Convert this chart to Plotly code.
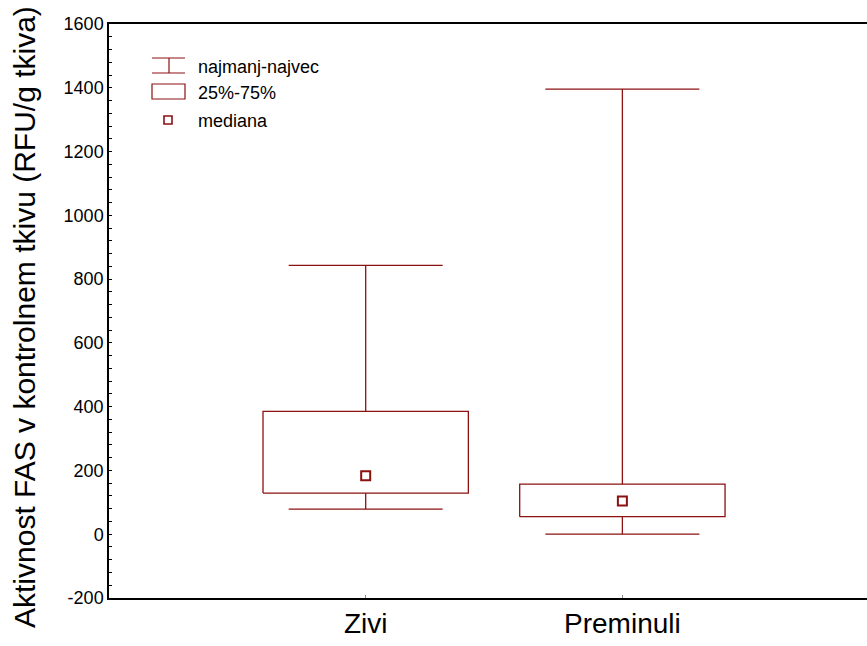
import plotly.graph_objects as go

# Summary statistics per group (RFU/g tkiva)
groups = ["Zivi", "Preminuli"]
minimum = [79, 0]
q1 = [129, 55]
median = [183, 104]
q3 = [385, 157]
maximum = [843, 1396]

y_ticks = [-200, 0, 200, 400, 600, 800, 1000, 1200, 1400, 1600]

RED = "#8c1111"
FONT = "Arial, Liberation Sans"
W, H = 867, 646
ML, MR, MT, MB = 109, 0, 24, 48
BOX_HALF = 0.4
CAP_HALF = 0.3

pos = list(range(1, len(groups) + 1))

fig = go.Figure()

# whiskers with caps
wx, wy = [], []
for p, lo, a, b, hi in zip(pos, minimum, q1, q3, maximum):
    wx += [p, p, None, p, p, None,
           p - CAP_HALF, p + CAP_HALF, None, p - CAP_HALF, p + CAP_HALF, None]
    wy += [b, hi, None, lo, a, None, hi, hi, None, lo, lo, None]
fig.add_trace(go.Scatter(x=wx, y=wy, mode="lines", line=dict(color=RED, width=1.3),
                         hoverinfo="skip", showlegend=False))

# interquartile boxes
bx, by = [], []
for p, a, b in zip(pos, q1, q3):
    bx += [p - BOX_HALF, p + BOX_HALF, p + BOX_HALF, p - BOX_HALF, p - BOX_HALF, None]
    by += [a, a, b, b, a, None]
fig.add_trace(go.Scatter(x=bx, y=by, mode="lines", line=dict(color=RED, width=1.3),
                         hoverinfo="skip", showlegend=False))

# medians
fig.add_trace(go.Scatter(x=pos, y=median, mode="markers",
                         marker=dict(symbol="square-open", size=9, color=RED,
                                     line=dict(color=RED, width=2)),
                         showlegend=False))

pw, ph = W - ML - MR, H - MT - MB


def px(x):
    return (x - ML) / pw


def py(y):
    return (H - MB - y) / ph


shapes = []
line = dict(color=RED, width=1.2)
# legend: min-max icon
shapes += [
    dict(type="line", xref="paper", yref="paper", x0=px(152), x1=px(185), y0=py(58), y1=py(58), line=line),
    dict(type="line", xref="paper", yref="paper", x0=px(152), x1=px(185), y0=py(73), y1=py(73), line=line),
    dict(type="line", xref="paper", yref="paper", x0=px(169), x1=px(169), y0=py(58), y1=py(73), line=line),
    # legend: box icon
    dict(type="rect", xref="paper", yref="paper", x0=px(152), x1=px(185), y0=py(84), y1=py(99), line=line),
    # legend: median icon
    dict(type="rect", xref="paper", yref="paper", x0=px(164), x1=px(172), y0=py(116), y1=py(124),
         line=dict(color=RED, width=1.6)),
]

annotations = []
for txt, yy in [("najmanj-najvec", 67), ("25%-75%", 93), ("mediana", 121)]:
    annotations.append(dict(text=txt, xref="paper", yref="paper", x=px(196), y=py(yy),
                            xanchor="left", yanchor="middle", showarrow=False,
                            font=dict(family=FONT, size=18, color="black")))

# y-axis title
annotations.append(dict(text="Aktivnost FAS v kontrolnem tkivu (RFU/g tkiva)",
                        xref="paper", yref="paper", x=px(24), y=py(317),
                        xanchor="center", yanchor="middle", textangle=-90, showarrow=False,
                        font=dict(family=FONT, size=30, color="black")))

fig.update_layout(
    width=W, height=H,
    margin=dict(l=ML, r=MR, t=MT, b=MB),
    plot_bgcolor="white", paper_bgcolor="white",
    font=dict(family=FONT, color="black"),
    shapes=shapes, annotations=annotations,
    showlegend=False,
)
fig.update_xaxes(
    range=[0, 2.953], tickvals=pos, ticktext=groups,
    tickfont=dict(size=28), ticks="inside", ticklen=3, tickcolor="#888",
    showgrid=False, zeroline=False,
    showline=True, linecolor="black", linewidth=1.5, mirror=True,
)
fig.update_yaxes(
    range=[-200, 1600], tickvals=y_ticks, ticktext=[str(v) for v in y_ticks],
    tickfont=dict(size=18),
    ticks="inside", ticklen=3, tickcolor="black",
    minor=dict(dtick=40, tick0=0, ticks="inside", ticklen=3, tickcolor="black"),
    showgrid=False, zeroline=False,
    showline=True, linecolor="black", linewidth=1.5,
)

fig.write_html("out.html")
